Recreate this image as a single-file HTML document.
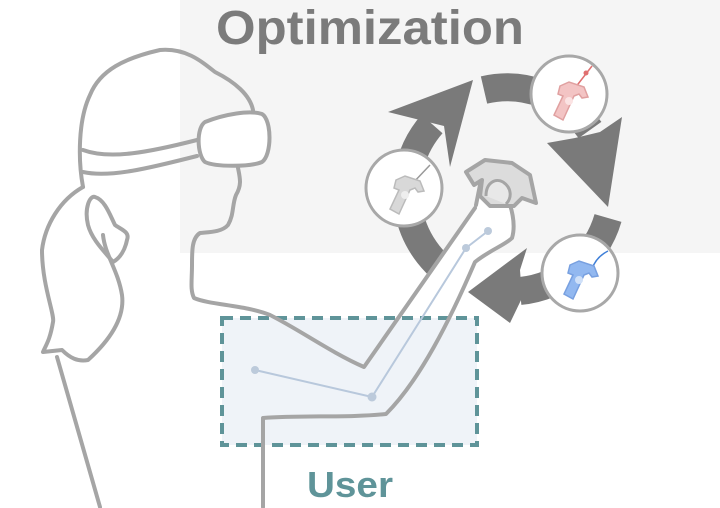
<!DOCTYPE html>
<html><head><meta charset="utf-8"><style>
html,body{margin:0;padding:0;background:#fff;}
svg{display:block;}
text{font-family:"Liberation Sans",sans-serif;font-weight:bold;}
</style></head><body>
<svg width="720" height="508" viewBox="0 0 720 508" xmlns="http://www.w3.org/2000/svg">
<defs><clipPath id="c"><rect x="0" y="0" width="720" height="316"/></clipPath></defs>
<rect x="180" y="0" width="540" height="253" fill="#f5f5f5"/>
<text x="216" y="44" font-size="48" fill="#7b7b7b" textLength="308" lengthAdjust="spacingAndGlyphs">Optimization</text>

<!-- cycle arrows -->
<g fill="none" stroke="#7a7a7a" stroke-width="28">
<path d="M462,282 A102,102 0 0 1 432,124"/>
<path d="M484,90 A102,102 0 0 1 590,130"/>
<path d="M608,218 A102,102 0 0 1 520,291"/>
</g>
<g fill="#7a7a7a">
<polygon points="473,80 450,167 444,126 420,120 388,112"/>
<polygon points="608,207 547,143 575,138 600,132 622,117"/>
<polygon points="468,292 527,248 520,270 522,298 510,323"/>
</g>

<!-- small circles -->
<g stroke="#a8a8a8" stroke-width="3" fill="#fff">
<circle cx="404" cy="188" r="38"/>
<circle cx="569" cy="94" r="38"/>
<circle cx="580" cy="273" r="38"/>
</g>
<!-- controllers -->
<g stroke-width="1.5">
<line x1="412" y1="184" x2="430" y2="165" stroke="#999"/>
<path d="M396,180 l9,-4 l15,5 l4,10 l-6,1 l-3,-4 l-5,2 l-11,24 l-9,-5 l9,-19 l-5,-2z" fill="#d8d8d8" stroke="#bbb"/>
<circle cx="405" cy="195" r="4" fill="#eee" stroke="none"/>
<line x1="575" y1="88" x2="592" y2="66" stroke="#e07070"/>
<circle cx="586" cy="73" r="2.5" fill="#e07070"/>
<path d="M560,86 l9,-4 l15,5 l4,10 l-6,1 l-3,-4 l-5,2 l-11,24 l-9,-5 l9,-19 l-5,-2z" fill="#f3c4c4" stroke="#e0a0a0"/>
<circle cx="569" cy="101" r="4" fill="#fbe3e3" stroke="none"/>
<path d="M592,269 q4,-12 16,-18" stroke="#3f7fd8" fill="none"/>
<path d="M570,265 l9,-4 l15,5 l4,10 l-6,1 l-3,-4 l-5,2 l-11,24 l-9,-5 l9,-19 l-5,-2z" fill="#92b8f0" stroke="#78a0e0"/>
<circle cx="579" cy="280" r="4" fill="#cfe0f8" stroke="none"/>
</g>

<!-- user box -->
<rect x="222" y="318" width="255" height="127" fill="#eff3f8" stroke="#5f9499" stroke-width="4" stroke-dasharray="11,7"/>
<text x="307" y="497" font-size="36" fill="#5f9499" textLength="86" lengthAdjust="spacingAndGlyphs">User</text>

<!-- arm white fill (above box only) -->
<path clip-path="url(#c)" d="M364,367 L475,208 L480,185 L505,195 C512,205 516,225 512,238 C505,245 490,250 475,262 C450,320 420,380 386,414 Z" fill="#fff"/>

<!-- person -->
<g fill="none" stroke="#a5a5a5" stroke-width="4" stroke-linejoin="round" stroke-linecap="round">
<path d="M83,187 C78,160 78,120 90,95 C100,70 125,58 160,50 C185,48 200,60 215,72 C235,82 250,95 253,110"/>
<path d="M83,150 C110,160 150,152 197,140"/>
<path d="M83,172 C110,178 150,168 197,156"/>
<path d="M205,122 C225,114 250,110 262,114 C272,120 272,155 262,162 C250,167 215,167 205,162 C197,155 196,128 205,122z" fill="#fff"/>
<path d="M238,168 C240,178 242,185 236,195 C232,205 234,215 228,225 C222,232 210,232 200,233 C192,238 192,250 192,265 C192,280 190,290 194,298 C210,305 245,305 270,315 C300,330 330,352 364,367 L475,208"/>
<path d="M263,507 L263,418 C300,415 350,418 386,414 C420,380 450,320 475,262 C490,250 505,245 512,238 C516,225 512,205 505,195 L480,185 L476,205"/>
<path d="M83,187 C60,200 45,225 42,250 C42,285 55,315 53,322 C50,340 46,345 43,352 L62,350 C70,358 78,362 88,360 C110,340 125,318 122,295 C118,270 105,255 103,235"/>
<path d="M57,357 L100,507"/>
<path d="M113,262 C105,252 92,240 88,225 C84,208 90,195 95,197 C105,200 110,215 115,225 C122,230 130,232 127,240 C125,250 120,258 113,262"/>
</g>
<!-- controller in hand -->
<path d="M466,172 L485,160 L512,163 L530,175 L536,203 L522,198 L514,206 L490,206 L480,196 L482,180 L474,185z" fill="#dcdcdc" stroke="#a5a5a5" stroke-width="4" stroke-linejoin="round"/>
<path d="M486,196 C486,182 496,178 503,182 C512,188 512,198 506,204" fill="#e8e8e8" stroke="#a5a5a5" stroke-width="3"/>

<!-- skeleton -->
<g stroke="#b8c8dc" stroke-width="2" fill="#bccadb">
<polyline points="255,370 372,397 466,248 488,231" fill="none"/>
<circle cx="255" cy="370" r="4" stroke="none"/>
<circle cx="372" cy="397" r="4.5" stroke="none"/>
<circle cx="466" cy="248" r="4" stroke="none"/>
<circle cx="488" cy="231" r="4" stroke="none"/>
</g>
</svg>
</body></html>
